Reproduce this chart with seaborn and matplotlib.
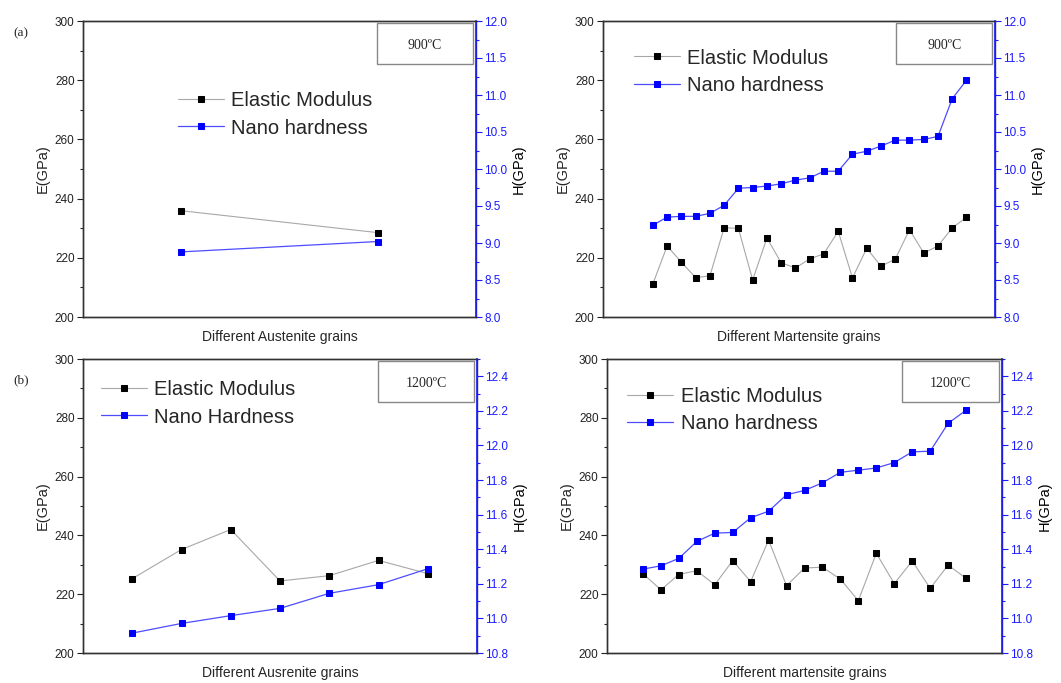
import numpy as np
import pandas as pd
import matplotlib
matplotlib.use("Agg")
import matplotlib.pyplot as plt
import seaborn as sns
from matplotlib.patches import Rectangle

# ---------------- data ----------------
aus900_E = [235.9, 228.5]
aus900_H = [8.88, 9.02]

mar900_E = [211.2, 224.0, 218.5, 213.3, 213.9, 230.2, 229.9, 212.5, 226.7, 218.3,
            216.6, 219.6, 221.4, 229.0, 213.2, 223.2, 217.2, 219.5, 229.5, 221.6,
            224.0, 230.1, 233.7]
mar900_H = [9.24, 9.35, 9.36, 9.36, 9.40, 9.51, 9.74, 9.75, 9.77, 9.80,
            9.85, 9.88, 9.97, 9.97, 10.20, 10.24, 10.31, 10.39, 10.39, 10.40,
            10.44, 10.95, 11.20]

aus1200_E = [225.3, 235.2, 242.0, 224.5, 226.3, 231.5, 227.0]
aus1200_H = [10.915, 10.971, 11.016, 11.058, 11.145, 11.195, 11.287]

mar1200_E = [227.0, 221.5, 226.7, 228.0, 223.2, 231.4, 224.3, 238.4, 222.9, 228.9,
             229.2, 225.1, 217.8, 233.9, 223.6, 231.3, 222.0, 229.9, 225.4]
mar1200_H = [11.285, 11.304, 11.347, 11.445, 11.493, 11.497, 11.582, 11.620, 11.715, 11.740,
             11.784, 11.845, 11.857, 11.870, 11.901, 11.963, 11.967, 12.128, 12.204]

xlabels = ["Different Austenite grains", "Different Martensite grains",
           "Different Ausrenite grains", "Different martensite grains"]
legend_labels = [("Elastic Modulus", "Nano hardness"), ("Elastic Modulus", "Nano hardness"),
                 ("Elastic Modulus", "Nano Hardness"), ("Elastic Modulus", "Nano hardness")]
temps = ["900ºC", "900ºC", "1200ºC", "1200ºC"]

# ---------------- style ----------------
sns.set_style("ticks")
plt.rcParams["font.family"] = ["Liberation Sans", "DejaVu Sans"]

BLUE = "#1a1aff"
GRAY = "#a8a8a8"

fig = plt.figure(figsize=(10.61, 6.83), dpi=100)

W, H = 1061, 683
def rect(l, r, t, b):
    return [l / W, (H - b) / H, (r - l) / W, (b - t) / H]

panels = [
    dict(pos=rect(83, 476, 21, 317), E=aus900_E, Hd=aus900_H, xlim=(0.5, 2.5),
         hlim=(8.0, 12.0), hmaj=0.5, hmin=0.25, hfmt="{:.1f}", leg=(0.242, 0.762)),
    dict(pos=rect(603, 995, 21, 317), E=mar900_E, Hd=mar900_H, xlim=(-2.5, 25.0),
         hlim=(8.0, 12.0), hmaj=0.5, hmin=0.25, hfmt="{:.1f}", leg=(0.079, 0.907)),
    dict(pos=rect(83, 477, 359, 653), E=aus1200_E, Hd=aus1200_H, xlim=(0, 8),
         hlim=(10.8, 12.5), hmaj=0.2, hmin=0.1, hfmt="{:.1f}", leg=(0.046, 0.927)),
    dict(pos=rect(607, 1002, 359, 653), E=mar1200_E, Hd=mar1200_H, xlim=(-1, 21),
         hlim=(10.8, 12.5), hmaj=0.2, hmin=0.1, hfmt="{:.1f}", leg=(0.051, 0.905)),
]

for i, p in enumerate(panels):
    ax = fig.add_axes(p["pos"])
    n = len(p["E"])
    df = pd.DataFrame({"grain": np.arange(1, n + 1), "E": p["E"], "H": p["Hd"]})

    sns.lineplot(data=df, x="grain", y="E", ax=ax, color=GRAY, lw=0.8,
                 marker="s", markersize=4.5, markerfacecolor="black",
                 markeredgecolor="black", legend=False)
    ax2 = ax.twinx()
    sns.lineplot(data=df, x="grain", y="H", ax=ax2, color="#4d4dff", lw=0.9,
                 marker="s", markersize=4.5, markerfacecolor="#0000ff",
                 markeredgecolor="#0000ff", legend=False)

    ax.set_xlim(*p["xlim"])
    ax.set_ylim(200, 300)
    ax.set_yticks(np.arange(200, 301, 20))
    ax.set_yticks(np.arange(210, 300, 20), minor=True)
    ax.set_xticks([])
    ax.set_xlabel(xlabels[i], fontsize=10, labelpad=9)
    ax.set_ylabel("E(GPa)", fontsize=10.5, labelpad=4)
    ax.tick_params(axis="y", which="major", direction="out", length=4, width=0.8,
                   labelsize=8.5, pad=2, colors="#222222")
    ax.tick_params(axis="y", which="minor", direction="out", length=2.5, width=0.8)

    lo, hi = p["hlim"]
    ax2.set_ylim(lo, hi)
    maj = np.round(np.arange(lo, hi + 1e-9, p["hmaj"]), 3)
    mnr = np.round(np.arange(lo, hi + 1e-9, p["hmin"]), 3)
    ax2.set_yticks(maj)
    ax2.set_yticklabels([p["hfmt"].format(v) for v in maj])
    ax2.set_yticks(mnr, minor=True)
    ax2.set_ylabel("H(GPa)", fontsize=10.5, labelpad=3, color="black")
    ax2.tick_params(axis="y", which="major", direction="out", length=4, width=0.8,
                    labelsize=8.5, pad=2, colors=BLUE)
    ax2.tick_params(axis="y", which="minor", direction="out", length=2.5, width=0.8,
                    colors=BLUE)

    for a in (ax, ax2):
        for s in a.spines.values():
            s.set_linewidth(1.0)
            s.set_color("#333333")
            s.set_visible(True)
    ax2.spines["right"].set_color(BLUE)
    ax2.spines["right"].set_linewidth(1.2)

    # temperature box
    ax2.add_patch(Rectangle((0.748, 0.855), 0.245, 0.137, transform=ax2.transAxes,
                            facecolor="white", edgecolor="#888888", lw=1.0, zorder=5))
    ax2.text(0.8705, 0.918, temps[i], transform=ax2.transAxes, ha="center", va="center",
             fontsize=10, family=["Liberation Serif", "DejaVu Serif"], zorder=6)

    handles = ax.get_lines()[:1] + ax2.get_lines()[:1]
    ax2.legend(handles, legend_labels[i], loc="upper left", bbox_to_anchor=p["leg"],
               frameon=False, borderpad=0, borderaxespad=0, fontsize=14.5,
               handlelength=2.3, handletextpad=0.35, labelspacing=0.4, numpoints=1)

fig.text(13 / W, (H - 33) / H, "(a)", fontsize=9.5, va="center", ha="left",
         family=["Liberation Serif", "DejaVu Serif"])
fig.text(13 / W, (H - 380) / H, "(b)", fontsize=9.5, va="center", ha="left",
         family=["Liberation Serif", "DejaVu Serif"])

fig.savefig("out.png", dpi=100, facecolor="white")
